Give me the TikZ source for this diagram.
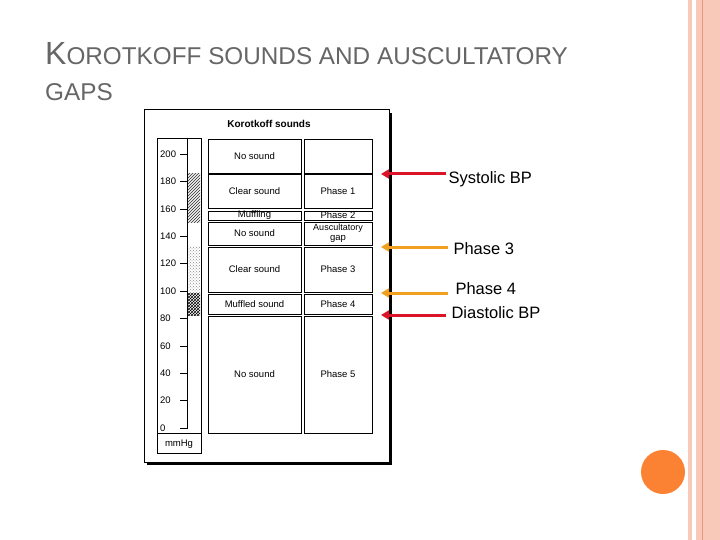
\documentclass[tikz,border=0pt]{standalone}
\usepackage{fontspec}
\setmainfont{Liberation Sans}
\usetikzlibrary{patterns,arrows.meta}
\definecolor{salmon}{RGB}{248,200,184}
\definecolor{salmonD}{RGB}{236,150,120}
\definecolor{orng}{RGB}{250,130,50}
\definecolor{redA}{RGB}{220,20,40}
\definecolor{orA}{RGB}{240,160,30}
\begin{document}
\begin{tikzpicture}[x=1pt,y=-1pt,
 cell/.style={draw=black,line width=0.7pt,inner sep=0pt},
 sm/.style={font=\fontsize{9.5}{10}\selectfont},
 lab/.style={font=\fontsize{16.5}{18}\selectfont,anchor=west},
 arr/.style={line width=3pt,-{Triangle[length=8pt,width=9pt]}}]
\useasboundingbox (0,0) rectangle (720,540);
\fill[white] (0,0) rectangle (720,540);
% right decoration
\fill[salmon] (688,0) rectangle (692,540);
\fill[salmon] (696,0) rectangle (720,540);
\draw[salmonD,line width=0.8pt] (702.5,0) -- (702.5,540);
\fill[orng] (663,472) circle (22);
% title
\node[anchor=base west,text=black!60,inner sep=0pt] (t1) at (45,65) {\fontsize{32}{34}\selectfont K\fontsize{24.3}{26}\selectfont OROTKOFF SOUNDS AND AUSCULTATORY};
\node[anchor=base west,text=black!60,inner sep=0pt] (t2) at (45,101) {\fontsize{24.3}{26}\selectfont GAPS};
% frame
\fill[black] (147,113) rectangle (392,465);
\draw[fill=white,line width=0.7pt] (144,109) rectangle (389,462);
\node[font=\bfseries\fontsize{10}{11}\selectfont] (kt) at (269,124) {Korotkoff sounds};
% scale
\draw[line width=0.7pt] (157,138) rectangle (201,453);
\draw[line width=0.7pt] (157,433) -- (201,433);
\pattern[pattern=north east lines,pattern color=black!70] (187,174) rectangle (200,223);
\pattern[pattern=north east lines,pattern color=black!70] (187.5,174) rectangle (200,223);
\pattern[pattern=crosshatch dots,pattern color=black!45] (187,246) rectangle (200,293);
\pattern[pattern=crosshatch,pattern color=black] (187,293) rectangle (200,315);
\draw[line width=0.7pt] (187,138) -- (187,428) -- (180,428);
\foreach \v in {0,20,...,200}{
 \draw[line width=0.6pt] (180,{428-1.37*\v}) -- (187,{428-1.37*\v});
 \node[sm,anchor=west,inner sep=0pt] at (160,{428-1.37*\v}) {\v};}
\node[sm] (mm) at (179,444) {mmHg};
% cells
\node[cell,minimum width=93,minimum height=35,sm] (a1) at (254.5,156.5) {No sound};
\node[cell,minimum width=68,minimum height=35] (b1) at (338,156.5) {};
\draw[line width=1.4pt] (208,174) -- (301,174) (304,174) -- (372,174);
\node[cell,minimum width=93,minimum height=34,sm] (a2) at (254.5,191) {Clear sound};
\node[cell,minimum width=68,minimum height=34,sm] (b2) at (338,191) {Phase 1};
\node[cell,minimum width=93,minimum height=9,sm] (a3) at (254.5,215.5) {Muffling};
\node[cell,minimum width=68,minimum height=9,sm] (b3) at (338,215.5) {Phase 2};
\node[cell,minimum width=93,minimum height=23,sm] (a4) at (254.5,233.5) {No sound};
\node[cell,minimum width=68,minimum height=23,sm,align=center] (b4) at (338,233.5) {\fontsize{9}{9.5}\selectfont Auscultatory\\gap};
\node[cell,minimum width=93,minimum height=45,sm] (a5) at (254.5,269.5) {Clear sound};
\node[cell,minimum width=68,minimum height=45,sm] (b5) at (338,269.5) {Phase 3};
\node[cell,minimum width=93,minimum height=20,sm] (a6) at (254.5,304) {Muffled sound};
\node[cell,minimum width=68,minimum height=20,sm] (b6) at (338,304) {Phase 4};
\node[cell,minimum width=93,minimum height=117,sm] (a7) at (254.5,374.5) {No sound};
\node[cell,minimum width=68,minimum height=117,sm] (b7) at (338,374.5) {Phase 5};
% arrows
\coordinate (r1) at (446,174); \coordinate (r1e) at (381,174);
\coordinate (o1) at (448,247); \coordinate (o1e) at (381,247);
\coordinate (o2) at (448,293); \coordinate (o2e) at (381,293);
\coordinate (r2) at (446,315); \coordinate (r2e) at (381,315);
\draw[arr,redA] (r1) -- (r1e);
\draw[arr,orA] (o1) -- (o1e);
\draw[arr,orA] (o2) -- (o2e);
\draw[arr,redA] (r2) -- (r2e);
\node[lab] (l1) at (445,179) {Systolic BP};
\node[lab] (l2) at (450,249) {Phase 3};
\node[lab] (l3) at (452,289) {Phase 4};
\node[lab] (l4) at (448,313) {Diastolic BP};
\end{tikzpicture}
\end{document}
